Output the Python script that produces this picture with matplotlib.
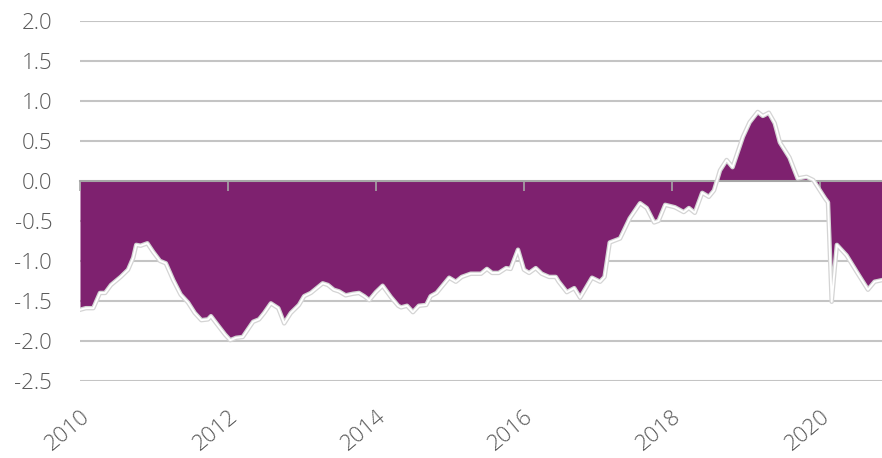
import numpy as np
import matplotlib
matplotlib.use('Agg')
import matplotlib.pyplot as plt
import matplotlib.patheffects as pe

plt.rcParams['font.family'] = ['Open Sans', 'DejaVu Sans']
plt.rcParams['font.weight'] = 'light'

# series, decimal years and values
years = [2010.00, 2010.08, 2010.18, 2010.27, 2010.34, 2010.42, 2010.55, 2010.65, 2010.72, 2010.76,
         2010.82, 2010.91, 2010.99, 2011.08, 2011.16, 2011.26, 2011.36, 2011.46, 2011.55, 2011.64,
         2011.73, 2011.77, 2011.86, 2011.96, 2012.03, 2012.11, 2012.20, 2012.34, 2012.42, 2012.49,
         2012.58, 2012.68, 2012.76, 2012.85, 2012.96, 2013.03, 2013.12, 2013.28, 2013.35, 2013.43,
         2013.50, 2013.59, 2013.69, 2013.77, 2013.84, 2013.91, 2014.00, 2014.09, 2014.20, 2014.30,
         2014.34, 2014.42, 2014.50, 2014.58, 2014.68, 2014.74, 2014.82, 2014.99, 2015.08, 2015.16,
         2015.28, 2015.42, 2015.50, 2015.57, 2015.66, 2015.76, 2015.82, 2015.92, 2016.00, 2016.07,
         2016.16, 2016.24, 2016.34, 2016.43, 2016.47, 2016.58, 2016.68, 2016.76, 2016.92, 2017.03,
         2017.09, 2017.16, 2017.30, 2017.43, 2017.57, 2017.66, 2017.76, 2017.82, 2017.91, 2018.04,
         2018.16, 2018.23, 2018.31, 2018.41, 2018.50, 2018.57, 2018.65, 2018.74, 2018.82, 2018.96,
         2019.05, 2019.16, 2019.23, 2019.31, 2019.39, 2019.46, 2019.59, 2019.70, 2019.82, 2019.91,
         2020.07, 2020.11, 2020.16, 2020.23, 2020.36, 2020.50, 2020.65, 2020.74, 2020.84]
values = [-1.61, -1.59, -1.59, -1.40, -1.40, -1.30, -1.20, -1.11, -0.96, -0.80,
          -0.81, -0.78, -0.89, -1.00, -1.03, -1.24, -1.42, -1.52, -1.65, -1.74,
          -1.73, -1.69, -1.80, -1.92, -1.99, -1.96, -1.95, -1.76, -1.73, -1.65,
          -1.53, -1.59, -1.78, -1.65, -1.55, -1.44, -1.40, -1.28, -1.30, -1.36,
          -1.38, -1.43, -1.41, -1.40, -1.44, -1.49, -1.39, -1.31, -1.45, -1.56,
          -1.58, -1.56, -1.64, -1.56, -1.55, -1.44, -1.40, -1.21, -1.26, -1.20,
          -1.16, -1.16, -1.10, -1.15, -1.15, -1.09, -1.10, -0.86, -1.11, -1.15,
          -1.09, -1.16, -1.20, -1.20, -1.26, -1.39, -1.34, -1.46, -1.21, -1.26,
          -1.20, -0.77, -0.72, -0.47, -0.28, -0.34, -0.52, -0.50, -0.30, -0.33,
          -0.39, -0.34, -0.40, -0.15, -0.20, -0.12, 0.13, 0.26, 0.17, 0.55,
          0.73, 0.86, 0.81, 0.85, 0.72, 0.48, 0.29, 0.03, 0.05, 0.01,
          -0.22, -0.27, -1.51, -0.80, -0.93, -1.14, -1.36, -1.26, -1.24]

year_ticks = [2010, 2012, 2014, 2016, 2018, 2020]
y_ticks = [2.0, 1.5, 1.0, 0.5, 0.0, -0.5, -1.0, -1.5, -2.0, -2.5]

purple = '#7e216f'
grid_c = '#c4c4c4'
text_c = '#595959'

fig = plt.figure(figsize=(8.82, 4.58), dpi=100)
ax = fig.add_axes([0.0907, 0.168, 0.9093, 0.787])

x = np.array(years)
y = np.array(values)

for t in y_ticks:
    if t != 0:
        ax.axhline(t, color=grid_c, lw=1.5, zorder=0)

ax.fill_between(x, y, 0, color=purple, lw=0, zorder=1)
ax.plot(x, y, color='white', lw=1.4, zorder=3,
        path_effects=[pe.Stroke(linewidth=3.2, foreground='#d4d4d4'), pe.Normal()])

ax.set_xlim(2010, 2020.84)
ax.set_ylim(-2.5, 2.0)

for s in ['top', 'right', 'left']:
    ax.spines[s].set_visible(False)
ax.spines['bottom'].set_position(('data', 0))
ax.spines['bottom'].set_color('#a6a6a6')
ax.spines['bottom'].set_linewidth(1.5)
ax.spines['bottom'].set_zorder(2)

ax.set_xticks(year_ticks)
ax.tick_params(axis='x', direction='out', length=7, width=1.2, color='#a6a6a6',
               labelbottom=False)

ax.set_yticks(y_ticks)
ax.set_yticklabels(['%.1f' % t for t in y_ticks])
ax.tick_params(axis='y', length=0, pad=20, labelsize=16, labelcolor=text_c)

# year labels sit under the plot, not on the zero line
sec = ax.secondary_xaxis('bottom')
sec.spines['bottom'].set_visible(False)
sec.set_xticks(year_ticks)
sec.set_xticklabels([str(t) for t in year_ticks], rotation=40, ha='right',
                    rotation_mode='anchor')
sec.tick_params(axis='x', length=0, pad=18, labelsize=16, labelcolor=text_c)

fig.savefig('out.png', dpi=100)
